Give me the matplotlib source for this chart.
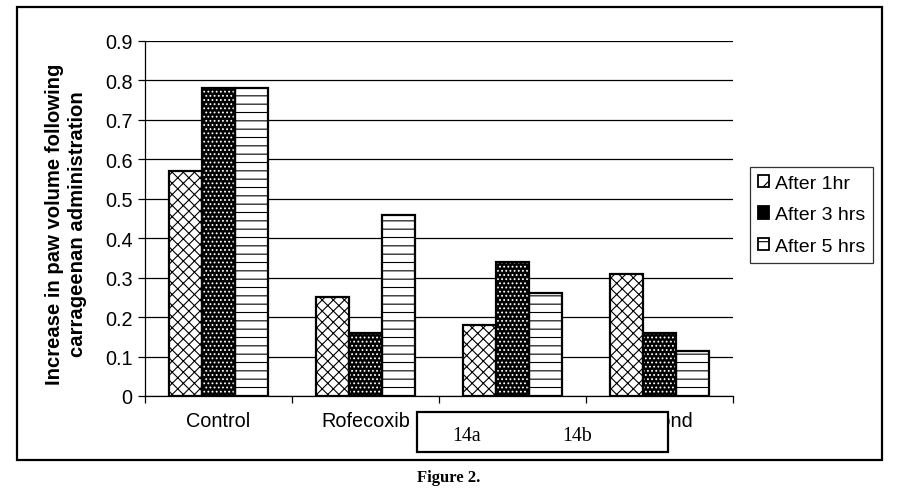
import numpy as np
import matplotlib.pyplot as plt
from matplotlib.patches import Rectangle

plt.rcParams['font.family'] = ['Liberation Sans', 'DejaVu Sans']
plt.rcParams['hatch.linewidth'] = 0.8

groups = ["Control", "Rofecoxib", "First", "Second"]
series = ["After 1hr", "After 3 hrs", "After 5 hrs"]
after_1hr = [0.57, 0.25, 0.18, 0.31]
after_3hrs = [0.78, 0.16, 0.34, 0.16]
after_5hrs = [0.78, 0.46, 0.26, 0.115]

W, H = 905, 489
fs = 14.3
fig = plt.figure(figsize=(W/100, H/100), dpi=100)
ax = fig.add_axes([145/W, 1-397/H, (733-145)/W, (397-42)/H])

x = np.arange(len(groups))
bw = 0.226
values = [after_1hr, after_3hrs, after_5hrs]
faces = ["white", "black", "white"]
hatch_cols = ["black", "white", "black"]
hatches = ["xxx", "....", "--"]
legend_hatches = ["//", "", "-"]

handles = []
for i, (vals, fc, hc, h) in enumerate(zip(values, faces, hatch_cols, hatches)):
    pos = x + (i-1)*bw
    ax.bar(pos, vals, bw, color=fc, edgecolor=hc, hatch=h, linewidth=0, zorder=3)
    ax.bar(pos, vals, bw, fill=False, edgecolor="black", linewidth=1.6, zorder=4)
    handles.append(Rectangle((0, 0), 1, 1, facecolor=fc, edgecolor="black",
                             hatch=legend_hatches[i], linewidth=1.3))

ax.set_xlim(-0.5, len(groups)-0.5)
ax.set_ylim(0, 0.9)
ax.set_yticks(np.arange(0, 0.91, 0.1))
ax.set_yticklabels(["0"] + [f"{v:.1f}" for v in np.arange(0.1, 0.91, 0.1)])
ax.yaxis.grid(True, color="black", linewidth=0.9, zorder=0)
ax.set_axisbelow(True)
ax.set_xticks(np.arange(-0.5, len(groups), 1.0))
ax.set_xticklabels([])
ax.set_xticks(x, minor=True)
ax.set_xticklabels(groups, minor=True)
ax.tick_params(axis="x", which="minor", length=0, pad=11, labelsize=fs)
ax.tick_params(axis="x", which="major", length=5, width=0.9, direction="out")
ax.tick_params(axis="y", length=5, width=0.9, direction="out", labelsize=fs, pad=4)
for s in ["top", "right"]:
    ax.spines[s].set_visible(False)
ax.spines["left"].set_linewidth(0.9)
ax.spines["bottom"].set_linewidth(0.9)

fig.text(66/W, 1-224/H, "Increase in paw volume following\ncarrageenan administration",
         rotation=90, ha="center", va="center", fontsize=14.6, fontweight="bold",
         linespacing=1.3)

leg = fig.legend(handles, series, loc="upper left",
                 bbox_to_anchor=(750/W, 1-168/H), fontsize=14, frameon=True,
                 fancybox=False, edgecolor="black", handlelength=0.6,
                 handleheight=0.6, handletextpad=0.3, labelspacing=0.75,
                 borderpad=0.4, borderaxespad=0)
leg.get_frame().set_linewidth(0.9)

# outer frame
fig.patches.append(Rectangle((17/W, 1-461/H), (882-17)/W, (461-8)/H,
                             transform=fig.transFigure, fill=False,
                             edgecolor="black", linewidth=1.6))
# overlay box
fig.patches.append(Rectangle((417/W, 1-453/H), (668-417)/W, (453-413)/H,
                             transform=fig.transFigure, facecolor="white",
                             edgecolor="black", linewidth=1.6, zorder=10))
fig.text(467/W, 1-437/H, "14a", ha="center", va="center", fontsize=fs,
         family="Liberation Serif", zorder=11)
fig.text(577/W, 1-437/H, "14b", ha="center", va="center", fontsize=fs,
         family="Liberation Serif", zorder=11)

fig.text(449/W, 1-478/H, "Figure 2.", ha="center", va="center", fontsize=12,
         fontweight="bold", family="Liberation Serif")

fig.savefig("out.png", dpi=100)
